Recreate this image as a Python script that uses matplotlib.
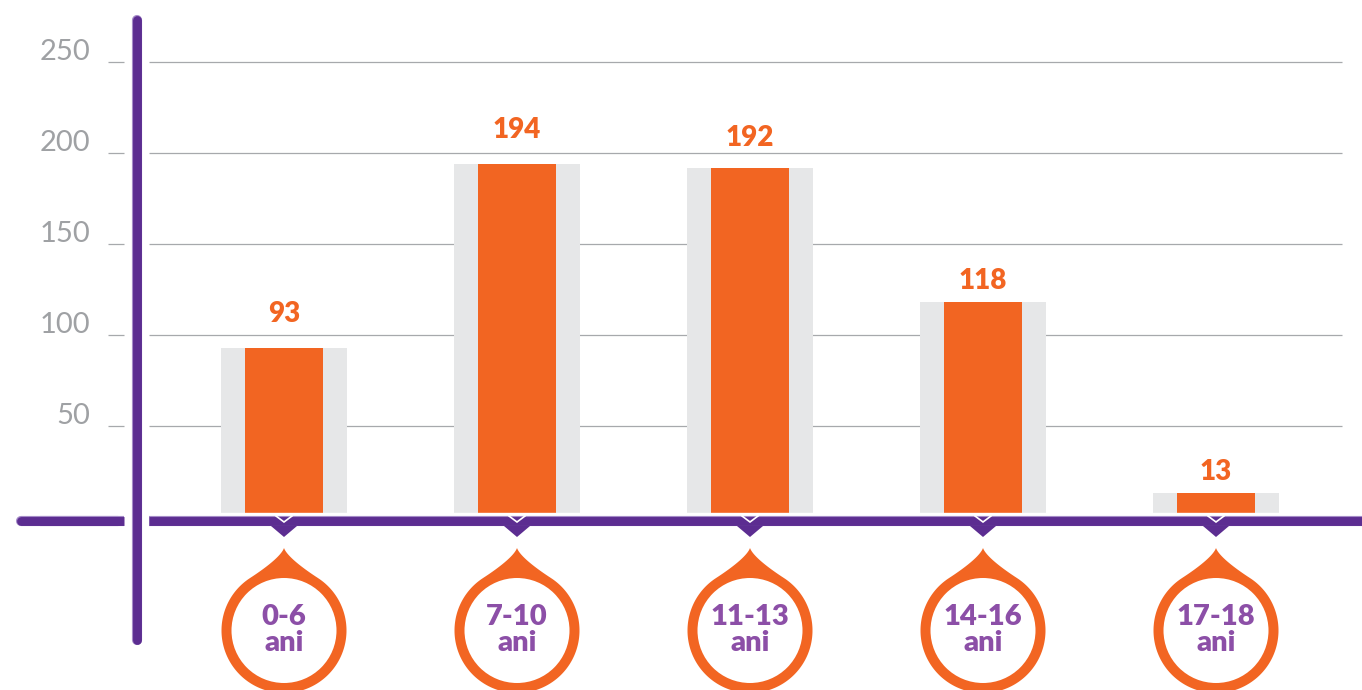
import numpy as np
import matplotlib
matplotlib.use('Agg')
import matplotlib.pyplot as plt
from matplotlib.patches import Polygon, Circle
import matplotlib.transforms as mtransforms

# ---- data ----
categories = ['0-6', '7-10', '11-13', '14-16', '17-18']
unit_label = 'ani'
values = [93, 194, 192, 118, 13]
yticks = [50, 100, 150, 200, 250]

# ---- style ----
ORANGE = '#F26522'
GREY_BAR = '#E6E7E8'
PURPLE = '#5C2D91'
LAVENDER = '#A58BC8'
LABEL_PURPLE = '#8C4FA7'
GRID = '#A7A9AC'
TICK_TEXT = '#9FA1A4'
FONT = ['Lato', 'DejaVu Sans']
label_offsets_pt = [24.3, 24.6, 21.2, 15.4, 15.4]   # value-label gap above bars

W, H = 1362, 690
fig = plt.figure(figsize=(W / 100, H / 100), dpi=100)
ax = fig.add_axes([0, 0, 1, 1])
X0, DX = 284, 233          # pixel centre of first category, pixel spacing
Y0, S = 517, 1.82          # pixel row of value 0, pixels per unit
ax.set_xlim(-X0 / DX, (W - X0) / DX)
ax.set_ylim((Y0 - H) / S, Y0 / S)
ax.axis('off')


def px_x(p):
    return (p - X0) / DX


def px_y(p):
    return (Y0 - p) / S


x = np.arange(len(categories))

# gridlines and small tick marks
ax.hlines(yticks, px_x(149), px_x(1342), color=GRID, lw=0.9, zorder=1)
ax.hlines(yticks, px_x(108), px_x(124), color=GRID, lw=0.9, zorder=1)
for v in yticks:
    ax.annotate(str(v), (px_x(90), v), xytext=(0, 7.5), textcoords='offset points',
                ha='right', va='center', fontsize=21, color=TICK_TEXT,
                family=FONT, fontweight='normal')

# bars
ax.bar(x, values, width=0.541, color=GREY_BAR, zorder=2)
ax.bar(x, values, width=0.339, color=ORANGE, zorder=3)
for xi, v, off in zip(x, values, label_offsets_pt):
    ax.annotate(str(v), (xi, v), xytext=(0, off), textcoords='offset points',
                ha='center', va='center', fontsize=20, fontweight='heavy',
                color=ORANGE, family=FONT)

# horizontal axis (with white gap above bars)
y_axis = px_y(520.5)
ax.plot([px_x(149), px_x(1400)], [y_axis] * 2, color='white', lw=12.5, zorder=4,
        solid_capstyle='butt')
for lw, col in [(7.3, LAVENDER), (6.4, PURPLE)]:
    ax.plot([px_x(149), px_x(1400)], [y_axis] * 2, color=col, lw=lw, zorder=5,
            solid_capstyle='butt')
    ax.plot([px_x(21), px_x(118)], [y_axis] * 2, color=col, lw=lw, zorder=5,
            solid_capstyle='round')
    ax.plot([px_x(40), px_x(124)], [y_axis] * 2, color=col, lw=lw, zorder=5,
            solid_capstyle='butt')

# vertical axis
for lw, col in [(7.3, LAVENDER), (6.4, PURPLE)]:
    ax.plot([px_x(137)] * 2, [px_y(20), px_y(640)], color=col, lw=lw, zorder=7,
            solid_capstyle='round')


def bez(p0, p1, p2, p3, n=40):
    t = np.linspace(0, 1, n)[:, None]
    return ((1 - t) ** 3 * p0 + 3 * (1 - t) ** 2 * t * p1
            + 3 * (1 - t) * t ** 2 * p2 + t ** 3 * p3)


# droplet geometry (pixels, y up, relative to circle centre)
R, r, tip = 62.5, 52.5, 82.5
a = np.arcsin(34 / R)
pe = np.array([R * np.sin(a), R * np.cos(a)])
tang = np.array([np.cos(a), -np.sin(a)])
right = bez(np.array([0, tip]), np.array([3, 74]), pe - 16 * tang, pe)
th = np.linspace(np.pi / 2 - a, -3 * np.pi / 2 + a, 200)
arc = np.column_stack([R * np.cos(th), R * np.sin(th)])
left = right[::-1] * np.array([-1, 1])
drop = np.vstack([right, arc, left])

cy = px_y(630.5)
for xi, cat in zip(x, categories):
    # pointer under axis
    tr_axis = mtransforms.Affine2D() + mtransforms.ScaledTranslation(xi, y_axis, ax.transData)
    ax.add_patch(Polygon([(-13, -5.5), (13, -5.5), (0, -16.5)], closed=True,
                         facecolor=PURPLE, edgecolor='none', transform=tr_axis,
                         zorder=6, clip_on=False))
    ax.plot([-8, 0, 8], [4.5, -1.5, 4.5], color='white', lw=1.2, transform=tr_axis,
            zorder=6, solid_joinstyle='miter')
    # droplet
    tr = mtransforms.Affine2D() + mtransforms.ScaledTranslation(xi, cy, ax.transData)
    ax.add_patch(Polygon(drop, closed=True, facecolor=ORANGE, edgecolor='none',
                         transform=tr, zorder=6, clip_on=False))
    ax.add_patch(Circle((0, 0), r, facecolor='white', edgecolor='none',
                        transform=tr, zorder=7, clip_on=False))
    ax.annotate(cat, (xi, cy), xytext=(0, 9.5), textcoords='offset points',
                ha='center', va='center', fontsize=21, fontweight='heavy',
                color=LABEL_PURPLE, family=FONT, zorder=8)
    ax.annotate(unit_label, (xi, cy), xytext=(0, -9), textcoords='offset points',
                ha='center', va='center', fontsize=21, fontweight='heavy',
                color=LABEL_PURPLE, family=FONT, zorder=8)

fig.savefig('out.png', dpi=100)
